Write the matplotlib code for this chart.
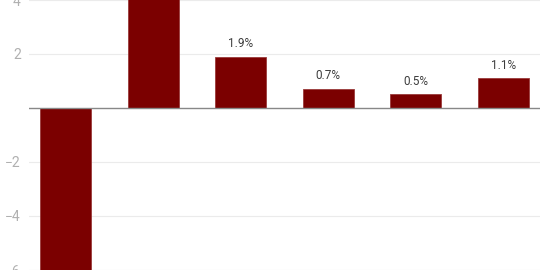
import matplotlib.pyplot as plt

# data (first two bars run past the visible area)
categories = ["A", "B", "C", "D", "E", "F"]
values = [-6.6, 4.4, 1.9, 0.7, 0.5, 1.1]
labels = ["-6.6%", "4.4%", "1.9%", "0.7%", "0.5%", "1.1%"]
yticks = [-6, -4, -2, 2, 4]

plt.rcParams['font.family'] = ['Roboto', 'DejaVu Sans']

fig = plt.figure(figsize=(5.5, 2.7), dpi=100)
ax = fig.add_axes([29 / 550, 0, 511 / 550, 1])

x = list(range(len(categories)))
ax.bar(x, values, width=0.583, color="#7b0000", edgecolor="#9a3a3a",
       linewidth=0.6, zorder=3)

for xi, v, lab in zip(x, values, labels):
    off = 0.25 if v >= 0 else -0.25
    ax.text(xi, v + off, lab, ha="center", va="bottom" if v >= 0 else "top",
            fontsize=8.5, color="#3c3c3c")

ax.set_xlim(-0.417, 5.42)
ax.set_ylim(-5.94, 3.88)
ax.set_yticks(yticks)
ax.set_yticklabels([str(t).replace("-", "\u2212") for t in yticks])
ax.set_xticks([])
ax.grid(axis="y", color="#ebebeb", linewidth=0.8, zorder=0)
ax.axhline(0, color="#888888", linewidth=1.0, zorder=4)
ax.tick_params(axis="y", length=0, pad=6, labelsize=10, colors="#b0b0b0")
for s in ax.spines.values():
    s.set_visible(False)

fig.savefig("out.png", dpi=100)
